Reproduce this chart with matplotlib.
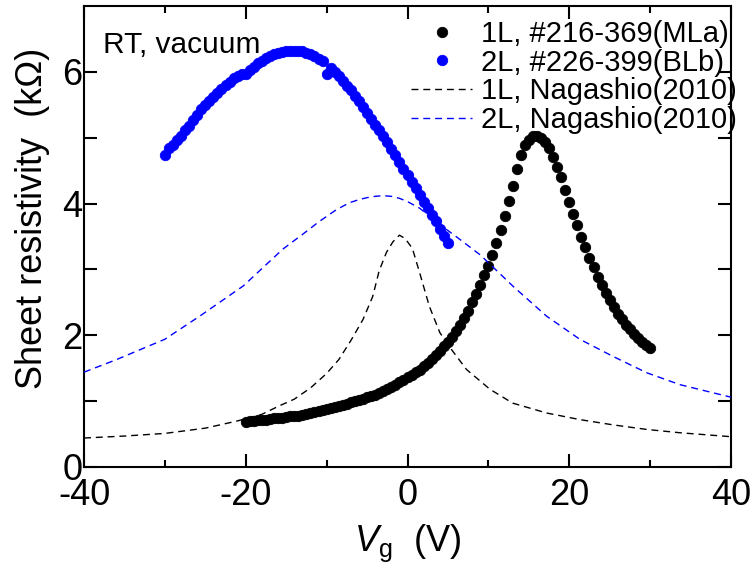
import numpy as np
import matplotlib
matplotlib.use("Agg")
import matplotlib.pyplot as plt
from matplotlib.ticker import MultipleLocator, FixedLocator

plt.rcParams['font.family'] = ['Liberation Sans', 'DejaVu Sans']
plt.rcParams['mathtext.fontset'] = 'custom'
plt.rcParams['mathtext.rm'] = 'Liberation Sans'
plt.rcParams['mathtext.it'] = 'Liberation Sans:italic'
plt.rcParams['axes.unicode_minus'] = False

# 1L sample #216-369 (MLa): gate sweep -20 V .. 30 V, 0.5 V steps
vg_1l = np.arange(-20.0, 30.01, 0.5)
rs_1l = [0.69, 0.70, 0.70, 0.71, 0.72, 0.72, 0.73, 0.74, 0.74, 0.75,
         0.76, 0.77, 0.77, 0.78, 0.79, 0.81, 0.82, 0.83, 0.85, 0.86,
         0.88, 0.89, 0.91, 0.92, 0.94, 0.96, 0.98, 1.00, 1.02, 1.04,
         1.06, 1.08, 1.10, 1.13, 1.16, 1.19, 1.22, 1.25, 1.29, 1.32,
         1.36, 1.40, 1.44, 1.48, 1.53, 1.58, 1.64, 1.70, 1.76, 1.83,
         1.90, 1.98, 2.07, 2.16, 2.26, 2.37, 2.50, 2.63, 2.77, 2.91,
         3.05, 3.22, 3.40, 3.60, 3.81, 4.04, 4.27, 4.52, 4.74, 4.89,
         4.97, 5.02, 5.03, 4.99, 4.93, 4.84, 4.71, 4.56, 4.40, 4.21,
         4.02, 3.84, 3.67, 3.50, 3.34, 3.18, 3.03, 2.89, 2.76, 2.64,
         2.53, 2.43, 2.33, 2.24, 2.16, 2.09, 2.02, 1.96, 1.90, 1.85,
         1.80]

# 2L sample #226-399 (BLb): gate sweep -30 V .. 5 V, 0.5 V steps
vg_2l = np.arange(-30.0, 5.01, 0.5)
rs_2l = [4.73, 4.85, 4.89, 4.96, 5.03, 5.11, 5.18, 5.27, 5.35, 5.43,
         5.50, 5.56, 5.62, 5.68, 5.74, 5.80, 5.85, 5.90, 5.94, 5.97,
         5.97, 6.03, 6.08, 6.13, 6.17, 6.21, 6.24, 6.27, 6.29, 6.30,
         6.31, 6.32, 6.32, 6.32, 6.31, 6.29, 6.27, 6.24, 6.20, 6.16,
         5.96, 6.06, 6.00, 5.93, 5.86, 5.79, 5.72, 5.64, 5.56, 5.47,
         5.38, 5.29, 5.20, 5.11, 5.02, 4.93, 4.83, 4.73, 4.63, 4.53,
         4.43, 4.33, 4.23, 4.13, 4.03, 3.93, 3.83, 3.73, 3.62, 3.51,
         3.40]

# Reference curves, Nagashio (2010)
vg_ref_1l = [-40, -35, -30, -25, -21, -18, -16, -14, -12, -10, -8.5, -7,
             -5.5, -4.3, -3.5, -2.6, -1.8, -1, -0.3, 0.6, 1.5, 2.7, 4, 5.4,
             7.3, 10.2, 13, 17.2, 21.3, 25.4, 29.6, 33.7, 40]
rs_ref_1l = [0.44, 0.47, 0.51, 0.59, 0.70, 0.80, 0.92, 1.03, 1.20, 1.42,
             1.63, 1.92, 2.24, 2.59, 2.98, 3.26, 3.42, 3.52, 3.47, 3.32,
             2.95, 2.44, 2.04, 1.79, 1.48, 1.18, 0.97, 0.82, 0.72, 0.64,
             0.57, 0.52, 0.46]

vg_ref_2l = [-40, -36, -30, -25.7, -20.3, -15.4, -13, -11, -9, -8, -7, -6,
             -5, -4, -3, -2, -1, 0, 1.5, 4, 6, 9, 13, 17.2, 21.3, 25.4,
             29.6, 33.7, 40]
rs_ref_2l = [1.44, 1.63, 1.94, 2.29, 2.75, 3.31, 3.53, 3.72, 3.89, 3.96,
             4.02, 4.06, 4.09, 4.11, 4.12, 4.11, 4.08, 4.03, 3.93, 3.68,
             3.50, 3.22, 2.75, 2.29, 1.94, 1.68, 1.43, 1.25, 1.06]

labels = ['1L, #216-369(MLa)', '2L, #226-399(BLb)',
          '1L, Nagashio(2010)', '2L, Nagashio(2010)']

fig = plt.figure(figsize=(7.55, 5.64), dpi=100)
ax = fig.add_axes([84 / 755, 1 - 467 / 564, (731 - 84) / 755, (467 - 6) / 564])

ax.plot(vg_1l, rs_1l, 'o', color='black', ms=7.5, mew=0.6, label=labels[0], zorder=2)
ax.plot(vg_2l, rs_2l, 'o', color='#0000ff', ms=7.5, mew=0.6, label=labels[1], zorder=2)
ax.plot(vg_ref_1l, rs_ref_1l, color='black', lw=1.0, ls=(0, (5, 3.5)),
        label=labels[2], zorder=3)
ax.plot(vg_ref_2l, rs_ref_2l, color='#0000ff', lw=1.0, ls=(0, (5, 3.5)),
        label=labels[3], zorder=3)

ax.set_xlim(-40, 40)
ax.set_ylim(0, 7)
ax.xaxis.set_major_locator(MultipleLocator(20))
ax.xaxis.set_minor_locator(MultipleLocator(10))
ax.yaxis.set_major_locator(FixedLocator([0, 2, 4, 6]))
ax.yaxis.set_minor_locator(FixedLocator([1, 3, 5]))

for s in ax.spines.values():
    s.set_linewidth(1.5)
ax.tick_params(which='both', direction='in', top=True, right=True, width=1.5,
               labelsize=26)
ax.tick_params(axis='x', which='major', length=9.5, pad=8)
ax.tick_params(axis='x', which='minor', length=4.8)
ax.tick_params(axis='y', which='both', length=9.5, pad=1)

ax.set_xlabel(r'$V_\mathrm{g}$  (V)', fontsize=26, labelpad=7)
ax.set_ylabel('Sheet resistivity  (k\u03a9)', fontsize=26)
ax.yaxis.set_label_coords(-0.053, 0.54)

ax.text(103 / 755, 1 - 45 / 564, 'RT, vacuum', transform=fig.transFigure,
        fontsize=21.5, ha='left', va='center')

ax.legend(loc='upper right', bbox_to_anchor=(737 / 755, 1 - 20 / 564),
          bbox_transform=fig.transFigure, frameon=False, fontsize=21,
          borderpad=0, borderaxespad=0, labelspacing=0.02, handlelength=2.1,
          handletextpad=0.3, numpoints=1)

fig.savefig('out.png', dpi=100)
